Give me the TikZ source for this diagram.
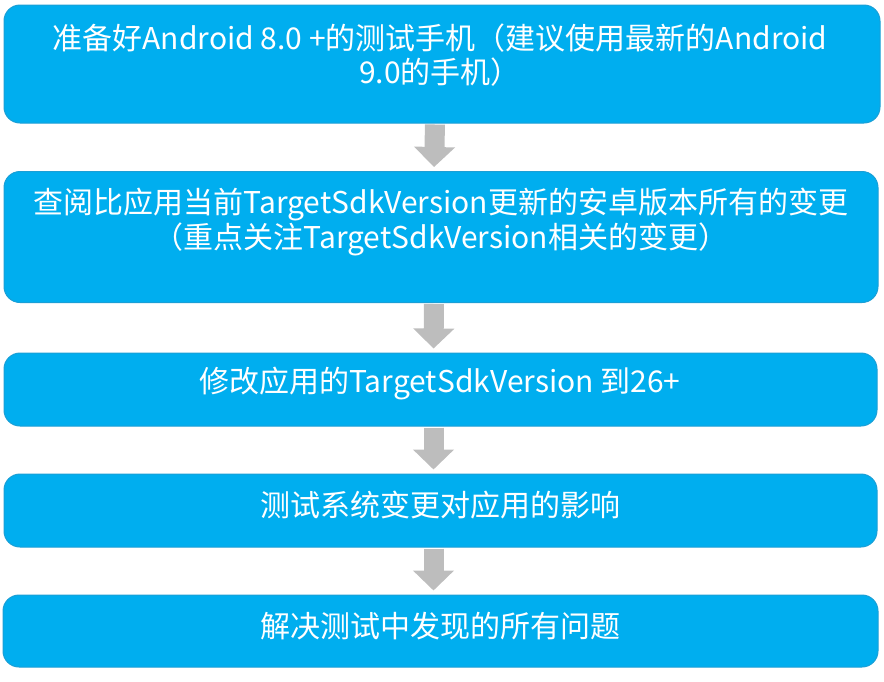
\documentclass[tikz,border=0pt]{standalone}
\usepackage{fontspec}
\setmainfont{Noto Sans CJK SC}
\usetikzlibrary{arrows.meta}
\definecolor{boxblue}{HTML}{00AEEF}
\definecolor{boxedge}{HTML}{1A9FD6}
\definecolor{arrowgray}{HTML}{BDBDBD}
\tikzset{
  x=1pt, y=1pt,
  stepbox/.style={draw=boxedge, line width=1pt, fill=boxblue, rounded corners=16pt, inner sep=0pt},
  steptext/.style={text=white, font=\fontsize{30}{34.5}\selectfont, align=center, inner sep=0pt},
  flowarrow/.style={draw=arrowgray, line width=20pt, -{Triangle[length=20pt,width=40pt]}, shorten <=1pt, shorten >=4pt}
}
\begin{document}
\begin{tikzpicture}
\useasboundingbox (0,0) rectangle (884,-681);
\node[stepbox, minimum width=876pt, minimum height=118pt] (b1) at (442,-64) {};
\node[stepbox, minimum width=874pt, minimum height=131pt] (b2) at (441,-237) {};
\node[stepbox, minimum width=873pt, minimum height=73pt] (b3) at (440.5,-389.5) {};
\node[stepbox, minimum width=873pt, minimum height=73pt] (b4) at (440.5,-510.5) {};
\node[stepbox, minimum width=875pt, minimum height=72pt] (b5) at (440.5,-631) {};

\node[steptext] (t1) at (440,-55) {准备好Android 8.0 +的测试手机（建议使用最新的Android\\9.0的手机）};
\node[steptext] (t2) at (441,-222) {查阅比应用当前TargetSdkVersion更新的安卓版本所有的变更\\（重点关注TargetSdkVersion相关的变更）};
\node[steptext] (t3) at (440,-384) {修改应用的TargetSdkVersion 到26+};
\node[steptext] (t4) at (440,-505) {测试系统变更对应用的影响};
\node[steptext] (t5) at (440,-626) {解决测试中发现的所有问题};

\foreach \a/\b in {b1/b2,b2/b3,b3/b4,b4/b5}
  \draw[flowarrow] ([xshift=-7pt]\a.south) -- ([xshift=-7pt]\b.north);
\end{tikzpicture}
\end{document}
